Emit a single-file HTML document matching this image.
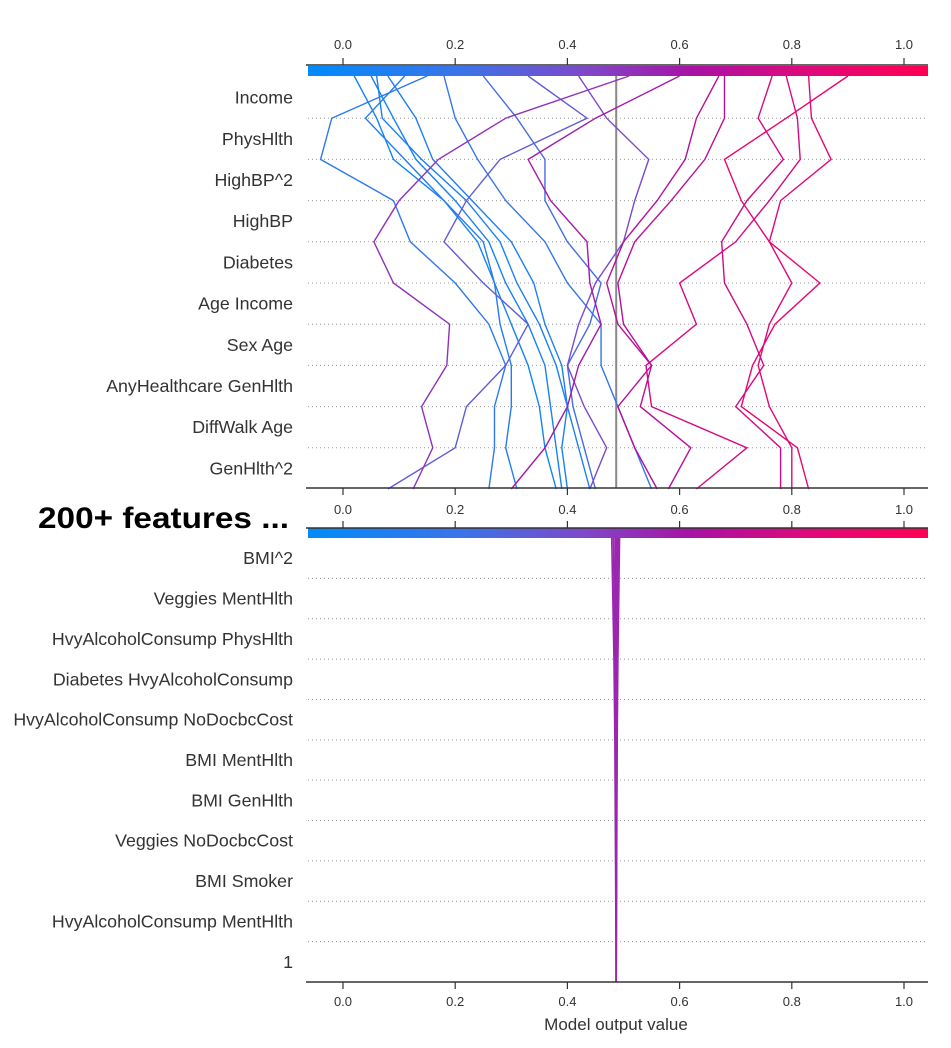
<!DOCTYPE html>
<html><head><meta charset="utf-8"><style>
body{margin:0;background:#fff;overflow:hidden;}
svg{display:block;font-family:"Liberation Sans",Arial,sans-serif;}
</style></head><body>
<svg id="chart" width="951" height="1048" viewBox="0 0 951 1048">
<defs>
<linearGradient id="cbar" x1="0" x2="1" y1="0" y2="0">
<stop offset="0" stop-color="#008bfb"/><stop offset="0.25" stop-color="#3c73e8"/><stop offset="0.45" stop-color="#7f47c8"/><stop offset="0.62" stop-color="#a812a4"/><stop offset="0.8" stop-color="#dd0a7c"/><stop offset="1" stop-color="#ff0052"/>
</linearGradient>
</defs>
<g id="top"></g><g id="bot"></g>
<text x="38" y="528" font-size="30" font-weight="bold" fill="#000" textLength="251" lengthAdjust="spacingAndGlyphs" font-family="'Liberation Sans',sans-serif">200+ features ...</text>
<text x="616" y="1030" font-size="17" fill="#333" text-anchor="middle">Model output value</text>
</svg>
<script>
const topFeatures=["Income","PhysHlth","HighBP^2","HighBP","Diabetes","Age Income","Sex Age","AnyHealthcare GenHlth","DiffWalk Age","GenHlth^2"];
const botFeatures=["BMI^2","Veggies MentHlth","HvyAlcoholConsump PhysHlth","Diabetes HvyAlcoholConsump","HvyAlcoholConsump NoDocbcCost","BMI MentHlth","BMI GenHlth","Veggies NoDocbcCost","BMI Smoker","HvyAlcoholConsump MentHlth","1"];
const ticks=[0.0,0.2,0.4,0.6,0.8,1.0];
const baseValue=0.487;
// each series: values from bottom edge up through row boundaries to the top (final output)
const s1=[0.26,0.27,0.27,0.29,0.26,0.20,0.12,0.09,-0.04,-0.02,0.15];
const s2=[0.38,0.36,0.35,0.33,0.30,0.27,0.24,0.18,0.09,0.06,0.02];
const s3=[0.39,0.38,0.37,0.36,0.33,0.29,0.26,0.20,0.13,0.09,0.05];
const s4=[0.40,0.39,0.40,0.38,0.35,0.31,0.28,0.22,0.14,0.07,0.06];
const s5=[0.31,0.29,0.30,0.30,0.28,0.27,0.25,0.18,0.11,0.04,0.11];
const s6=[0.44,0.42,0.40,0.39,0.36,0.34,0.30,0.23,0.16,0.13,0.08];
const s7=[0.55,0.52,0.49,0.46,0.46,0.40,0.36,0.29,0.24,0.20,0.18];
const s8=[0.45,0.43,0.41,0.40,0.44,0.46,0.40,0.36,0.36,0.31,0.25];
const s9=[0.08,0.20,0.22,0.29,0.33,0.25,0.18,0.22,0.28,0.435,0.33];
const s10=[0.125,0.16,0.14,0.185,0.19,0.09,0.055,0.10,0.17,0.29,0.51];
const s11=[0.44,0.47,0.43,0.40,0.42,0.45,0.50,0.52,0.545,0.47,0.42];
const s12=[0.83,0.81,0.71,0.73,0.77,0.85,0.76,0.71,0.68,0.79,0.90];
const s13=[0.80,0.80,0.76,0.74,0.76,0.80,0.76,0.78,0.87,0.835,0.83];
const s14=[0.78,0.78,0.70,0.75,0.72,0.68,0.675,0.72,0.785,0.74,0.765];
const s15=[0.58,0.62,0.53,0.55,0.50,0.49,0.52,0.585,0.645,0.68,0.68];
const s16=[0.56,0.52,0.49,0.55,0.49,0.47,0.50,0.56,0.61,0.63,0.67];
const s17=[0.63,0.72,0.55,0.54,0.63,0.60,0.70,0.76,0.815,0.81,0.79];
const s18=[0.30,0.36,0.40,0.42,0.46,0.44,0.435,0.37,0.33,0.45,0.60];
const series=[s1,s2,s3,s4,s5,s6,s7,s8,s9,s10,s11,s12,s13,s14,s15,s16,s17,s18];
const bundleOffsets=[-0.008,-0.005,-0.002,0.0,0.002,0.004,0.006];

const NS="http://www.w3.org/2000/svg";
const X=v=>343+v*561;
function mk(parent,tag,attrs){const e=document.createElementNS(NS,tag);for(const k in attrs)e.setAttribute(k,attrs[k]);parent.appendChild(e);return e;}
function lerp(a,b,t){return Math.round(a+(b-a)*t);}
const stops=[[0,[0,139,251]],[0.25,[60,115,232]],[0.45,[127,71,200]],[0.62,[168,18,164]],[0.8,[221,10,124]],[1,[255,0,82]]];
function color(v){const t=Math.max(0,Math.min(1,(v+0.062)/1.105));for(let i=1;i<stops.length;i++){if(t<=stops[i][0]){const a=stops[i-1],b=stops[i];const f=(t-a[0])/(b[0]-a[0]);return `rgb(${lerp(a[1][0],b[1][0],f)},${lerp(a[1][1],b[1][1],f)},${lerp(a[1][2],b[1][2],f)})`;}}return "rgb(255,0,82)";}

function axisTicks(g,y,dir,labelY){
  ticks.forEach(t=>{
    const l=mk(g,'line',{x1:X(t),x2:X(t),y1:y,y2:y+dir*7,stroke:'#333','stroke-width':1.2});
    
    
    if(labelY===null) return;
    const tx=mk(g,'text',{x:X(t),y:labelY,'font-size':13,fill:'#333','text-anchor':'middle'});
    tx.textContent=t.toFixed(1);
    
    
  });
}

// TOP PANEL
const gt=document.getElementById('top');
const topY0=77, topY1=489, rowH=(topY1-topY0)/10;
const bnd=i=>i===10?76:topY1-i*rowH; // i=0 bottom ... 10 top
for(let i=1;i<10;i++){const d=mk(gt,'line',{x1:308,x2:928,y1:bnd(i),y2:bnd(i),stroke:'#999','stroke-dasharray':'1,3','stroke-width':1});}
topFeatures.forEach((f,i)=>{const t=mk(gt,'text',{x:293,y:topY0+rowH*(i+0.5)+6,'font-size':17.8,fill:'#333','text-anchor':'end'});t.textContent=f;});
const vb=mk(gt,'line',{x1:X(baseValue),x2:X(baseValue),y1:66,y2:488,stroke:'#888','stroke-width':2});


series.forEach(s=>{
  const pts=s.map((v,i)=>X(v)+','+bnd(i)).join(' ');
  const p=mk(gt,'polyline',{points:pts,fill:'none',stroke:color(s[s.length-1]),'stroke-width':1.4});
  
  
});
const cb=mk(gt,'rect',{x:308,y:66,width:620,height:10,fill:'url(#cbar)'});


const ta=mk(gt,'line',{x1:306,x2:928,y1:65,y2:65,stroke:'#333','stroke-width':1.5});


axisTicks(gt,65,-1,49);
const ba=mk(gt,'line',{x1:306,x2:928,y1:488,y2:488,stroke:'#333','stroke-width':1.5});


axisTicks(gt,488,1,null);

// BOTTOM PANEL
const gb=document.getElementById('bot');
const bY0=538, bY1=982, bRow=(bY1-bY0)/11;
for(let i=1;i<11;i++){const d=mk(gb,'line',{x1:308,x2:928,y1:bY0+i*bRow,y2:bY0+i*bRow,stroke:'#999','stroke-dasharray':'1,3','stroke-width':1});}
botFeatures.forEach((f,i)=>{const t=mk(gb,'text',{x:293,y:bY0+bRow*(i+0.5)+6,'font-size':17.8,fill:'#333','text-anchor':'end'});t.textContent=f;});
bundleOffsets.forEach(o=>{
  const p=mk(gb,'polyline',{points:`${X(baseValue+o)},${bY0} ${X(baseValue+o*0.5)},${bY0+bRow*3} ${X(baseValue+o*0.3)},${bY0+bRow*5} ${X(baseValue)},${bY1}`,fill:'none',stroke:'#9b27b0','stroke-width':1.6});
  
  
});
const cb2=mk(gb,'rect',{x:308,y:528,width:620,height:10,fill:'url(#cbar)'});


const ta2=mk(gb,'line',{x1:306,x2:928,y1:528,y2:528,stroke:'#333','stroke-width':1.5});


axisTicks(gb,528,-1,514);
const ba2=mk(gb,'line',{x1:306,x2:928,y1:982,y2:982,stroke:'#333','stroke-width':1.5});


axisTicks(gb,982,1,1006);
</script>
</body></html>
